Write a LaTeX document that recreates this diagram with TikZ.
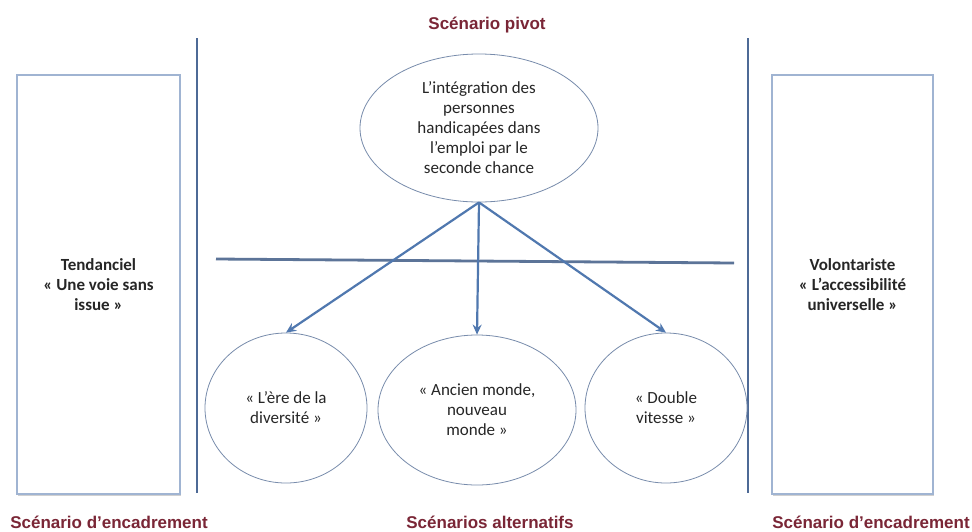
\documentclass[tikz,border=0pt]{standalone}
\usepackage{fontspec}
\setmainfont{Carlito}
\newfontfamily\labelfont{Liberation Sans}
\usetikzlibrary{shapes.geometric,arrows.meta,shadows}
\definecolor{labelred}{RGB}{122,38,54}
\definecolor{ellblue}{RGB}{120,140,172}
\definecolor{boxblue}{RGB}{160,180,210}
\definecolor{vblue}{RGB}{78,106,150}
\definecolor{ablue}{RGB}{80,120,175}
\definecolor{hblue}{RGB}{92,116,152}
\begin{document}
\begin{tikzpicture}[x=1pt,y=-1pt,
  lbl/.style={font=\labelfont\bfseries\fontsize{17}{20}\selectfont, text=labelred, inner sep=0pt},
  ell/.style={ellipse, draw=ellblue, line width=0.8pt, fill=white, inner sep=0pt, align=center,
    font=\fontsize{17}{20}\selectfont, text=black!85},
  sidebox/.style={rectangle, draw=boxblue, line width=1.3pt, fill=white, minimum height=419pt,
    inner sep=0pt, align=center, font=\bfseries\fontsize{17}{20}\selectfont, text=black!85,
    drop shadow={shadow xshift=0.8pt, shadow yshift=-1.5pt, fill=black!30, opacity=0.6}},
  vline/.style={draw=vblue, line width=2.6pt},
  hline/.style={draw=hblue, line width=2.8pt},
  arr/.style={draw=ablue, line width=2.2pt, -{Stealth[length=10pt,width=9pt]}}]
\useasboundingbox (0,0) rectangle (972,531);
\fill[white] (0,0) rectangle (972,531);

% side boxes
\node[sidebox, minimum width=163pt] (lbox) at (98.5,284.5)
  {Tendanciel\\« Une voie sans\\issue »};
\node[sidebox, minimum width=161pt] (rbox) at (852.5,284.5)
  {Volontariste\\« L’accessibilité\\universelle »};

% vertical separators
\coordinate (vlt) at (197,38);
\coordinate (vlb) at (197,493);
\coordinate (vrt) at (748,38);
\coordinate (vrb) at (748,493);
\draw[vline] (vlt) -- (vlb);
\draw[vline] (vrt) -- (vrb);

% horizontal line
\coordinate (hl) at (216,259);
\coordinate (hr) at (734,263);
\draw[hline] (hl) -- (hr);

% pivot ellipse
\node[ell, minimum width=238pt, minimum height=148pt] (pivot) at (479,128)
  {L’intégration des\\personnes\\handicapées dans\\l’emploi par le\\seconde chance};

% alternative scenarios
\node[ell, minimum width=162pt, minimum height=150pt] (c1) at (286,408)
  {« L’ère de la\\diversité »};
\node[ell, minimum width=198pt, minimum height=150pt] (c2) at (477,410)
  {« Ancien monde,\\nouveau\\monde »};
\node[ell, minimum width=162pt, minimum height=150pt] (c3) at (666,408)
  {« Double\\vitesse »};

% arrows
\draw[arr] (pivot.south) -- (c1.north);
\draw[arr] (pivot.south) -- (c2.north);
\draw[arr] (pivot.south) -- (c3.north);

% labels
\node[lbl] (tpivot) at (487,25) {Scénario pivot};
\node[lbl] (tleft) at (109,522) {Scénario d’encadrement};
\node[lbl] (talt) at (490,522) {Scénarios alternatifs};
\node[lbl] (tright) at (871,522) {Scénario d’encadrement};
\end{tikzpicture}
\end{document}
